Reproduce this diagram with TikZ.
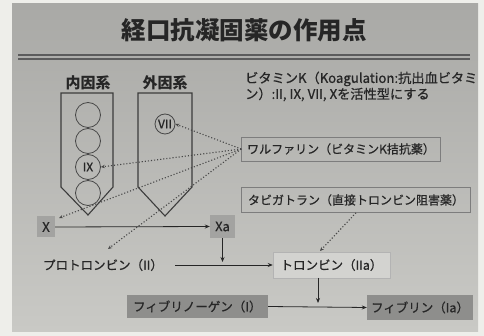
\documentclass[tikz,border=0pt]{standalone}
\usepackage{fontspec}
\setmainfont{Noto Sans CJK JP}
\newfontfamily\medfont{Noto Sans CJK JP}[FakeBold=0.7]
\usetikzlibrary{arrows.meta,shapes.geometric}
\definecolor{ink}{HTML}{262626}
\definecolor{outer}{HTML}{EEEEEA}
\definecolor{slidetop}{HTML}{A9A9A6}
\definecolor{slidebot}{HTML}{C9C9C5}
\definecolor{darkbox}{HTML}{8E8E8C}
\definecolor{midbox}{HTML}{A3A3A1}
\definecolor{lightbox}{HTML}{D3D3D0}
\tikzset{
  every node/.style={text=ink, inner sep=0pt},
  arr/.style={-{Stealth[length=5pt,width=4pt]}, draw=ink, line width=0.8pt},
  dotarr/.style={-{Stealth[length=4pt,width=3.5pt]}, draw=ink!85, line width=1.1pt, dotted},
  pent/.style={draw=ink!90, line width=1.1pt, line join=miter},
  circ/.style={draw=ink!85, line width=0.8pt, circle, minimum size=25pt, font=\medfont\fontsize{12}{12}\selectfont},
  txt/.style={font=\medfont\fontsize{12.5}{14}\selectfont},
  framebox/.style={draw=ink!60, line width=0.6pt, font=\medfont\fontsize{12}{14}\selectfont},
}
\begin{document}
\begin{tikzpicture}[x=1pt,y=-1pt]
\useasboundingbox (0,0) rectangle (484,336);
\fill[outer] (0,0) rectangle (484,336);
\shade[top color=slidetop, bottom color=slidebot] (12,4) rectangle (478,331);
% title
\node (title) at (244,30) {\fontsize{24.5}{26}\selectfont\bfseries 経口抗凝固薬の作用点};
\coordinate (tl1) at (18,55); \coordinate (tr1) at (470,55);
\coordinate (tl2) at (18,59); \coordinate (tr2) at (470,59);
\draw[ink!75, line width=1.4pt] (tl1) -- (tr1);
\draw[ink!75, line width=1.4pt] (tl2) -- (tr2);
% pentagons
\node[font=\fontsize{15}{16}\selectfont\bfseries] (lab1) at (88,83) {内因系};
\node[font=\fontsize{15}{16}\selectfont\bfseries] (lab2) at (165,83) {外因系};
\draw[pent] (61,93) -- (113,93) -- (113,187) -- (88,215) -- (61,187) -- cycle;
\draw[pent] (138,93) -- (192,93) -- (192,187) -- (165,216) -- (138,187) -- cycle;
\node[circ] (c1) at (88,115) {};
\node[circ] (c2) at (88,141) {};
\node[circ] (ix) at (88,167) {IX};
\node[circ] (c4) at (88,193) {};
\node[circ, minimum size=20pt] (vii) at (165,124) {VII};
% vitamin K text
\node[txt, font=\medfont\fontsize{13.2}{15}\selectfont, anchor=west, align=left] (vitk) at (245,86.5) {ビタミンK（Koagulation:抗出血ビタミ\\[1pt]ン）:II, IX, VII, Xを活性型にする};
% drug boxes
\node[framebox, minimum width=199pt, minimum height=24pt] (warf) at (341,149) {ワルファリン（ビタミンK拮抗薬）};
\node[framebox, minimum width=229pt, minimum height=25pt] (dab) at (356,200) {タビガトラン（直接トロンビン阻害薬）};
% cascade nodes
\node[fill=midbox, minimum width=18pt, minimum height=21pt, font=\medfont\fontsize{13}{14}\selectfont] (x) at (46,227) {X};
\node[fill=midbox, minimum width=25pt, minimum height=23pt, font=\medfont\fontsize{13}{14}\selectfont] (xa) at (222.5,226.5) {Xa};
\node[txt] (pro) at (103,265) {プロトロンビン（II）};
\node[fill=lightbox, draw=ink!35, line width=0.5pt, minimum width=117pt, minimum height=26pt, txt] (thr) at (331.5,265) {トロンビン（IIa）};
\node[fill=darkbox, minimum width=141pt, minimum height=23pt, txt] (fbg) at (197.3,306.5) {フィブリノーゲン（I）};
\node[fill=darkbox, minimum width=106pt, minimum height=25pt, txt] (fbn) at (420,307.5) {フィブリン（Ia）};
% solid arrows
\draw[arr] (x.east) -- (xa.west);
\coordinate (prostart) at (175,265);
\draw[arr] (prostart) -- (thr.west);
\coordinate (xadown) at (222.5,262);
\draw[arr] (xa.south) -- (xadown);
\draw[arr] (fbg.east) -- (fbn.west);
\coordinate (thrbot) at (318,278);
\coordinate (thrdown) at (318,303);
\draw[arr] (thrbot) -- (thrdown);
% dotted arrows
\coordinate (xtip) at (59,218);
\coordinate (protip) at (108,249);
\draw[dotarr] (warf.west) -- (vii.east);
\draw[dotarr] (warf.west) -- (ix.east);
\draw[dotarr] (warf.west) -- (xtip);
\draw[dotarr] (warf.west) -- (protip);
\coordinate (thrtop) at (320,251);
\draw[dotarr] (dab.south) -- (thrtop);
\end{tikzpicture}
\end{document}
